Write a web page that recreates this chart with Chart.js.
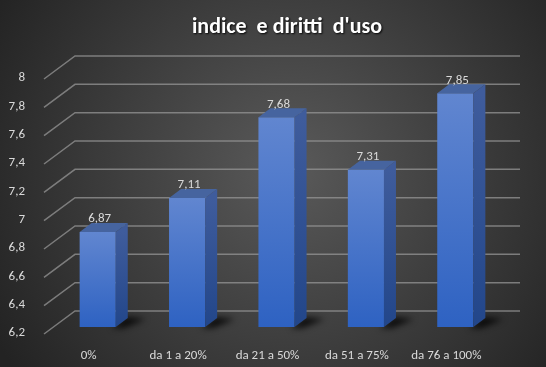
<!DOCTYPE html>
<html>
<head>
<meta charset="utf-8">
<script src="https://cdn.jsdelivr.net/npm/chart.js@4"></script>
<style>
  html, body { margin: 0; padding: 0; background: #2a2a2a; }
  #wrap { width: 546px; height: 367px; }
</style>
</head>
<body>
<div id="wrap"><canvas id="myChart" width="546" height="367"></canvas></div>
<script>
(function() {

    const categories = ['0%', 'da 1 a 20%', 'da 21 a 50%', 'da 51 a 75%', 'da 76 a 100%'];
    const values = [6.87, 7.11, 7.68, 7.31, 7.85];
    const yMin = 6.2, yMax = 8, yStep = 0.2;
    const titleText = "indice  e diritti  d'uso";

    const FONT = "Carlito, 'Liberation Sans', Arial, sans-serif";
    const DX = 12, DY = -9;   // bar depth

    const fmt = v => String(Math.round(v * 100) / 100).replace('.', ',');

    function frontGradient(ctx) {
        const chart = ctx.chart;
        const area = chart.chartArea;
        if (!area || ctx.dataIndex === undefined) return '#4a76c9';
        const y = chart.scales.y.getPixelForValue(values[ctx.dataIndex]);
        const g = chart.ctx.createLinearGradient(0, y, 0, area.bottom);
        g.addColorStop(0, '#6186d0');
        g.addColorStop(1, '#2e62c2');
        return g;
    }

    const depthPlugin = {
        id: 'depth',
        beforeDraw(chart) {
            const c = chart.ctx;
            const g = c.createRadialGradient(290, 170, 10, 290, 170, 340);
            g.addColorStop(0, '#585858');
            g.addColorStop(1, '#232323');
            c.save();
            c.fillStyle = g;
            c.fillRect(0, 0, chart.width, chart.height);
            c.restore();
        },
        beforeDatasetsDraw(chart) {
            const c = chart.ctx;
            const area = chart.chartArea;
            const ys = chart.scales.y;
            c.save();
            c.strokeStyle = 'rgba(150,150,150,0.75)';
            c.lineWidth = 1.5;
            ys.ticks.forEach(t => {
                const yb = ys.getPixelForValue(t.value);
                c.beginPath();
                c.moveTo(area.left - 9, yb + 7);
                c.lineTo(area.left + 22, yb - 16);
                c.lineTo(area.right + 20, yb - 16);
                c.stroke();
            });
            // floor shadows
            const meta = chart.getDatasetMeta(0);
            c.filter = 'blur(3px)';
            c.fillStyle = 'rgba(0,0,0,0.8)';
            meta.data.forEach(bar => {
                const r = bar.x + bar.width / 2;
                const b = area.bottom;
                c.beginPath();
                c.moveTo(r - 4, b + 1);
                c.lineTo(r + 8, b + 1);
                c.lineTo(r + 30, b - 8);
                c.lineTo(r + 10, b - 10);
                c.closePath();
                c.fill();
            });
            c.restore();
        },
        afterDatasetsDraw(chart) {
            const c = chart.ctx;
            const area = chart.chartArea;
            const meta = chart.getDatasetMeta(0);
            c.save();
            meta.data.forEach((bar, i) => {
                const l = bar.x - bar.width / 2;
                const r = bar.x + bar.width / 2;
                const y = bar.y, b = area.bottom;
                const sg = c.createLinearGradient(0, y, 0, b);
                sg.addColorStop(0, '#3f5c9c');
                sg.addColorStop(1, '#22468a');
                c.fillStyle = sg;
                c.beginPath();
                c.moveTo(r, y);
                c.lineTo(r + DX, y + DY);
                c.lineTo(r + DX, b + DY);
                c.lineTo(r, b);
                c.closePath();
                c.fill();
                c.fillStyle = '#46649f';
                c.beginPath();
                c.moveTo(l, y);
                c.lineTo(l + DX, y + DY);
                c.lineTo(r + DX, y + DY);
                c.lineTo(r, y);
                c.closePath();
                c.fill();
                // value label
                c.fillStyle = '#d9d9d9';
                c.font = '13px ' + FONT;
                c.textAlign = 'center';
                c.textBaseline = 'middle';
                c.fillText(fmt(values[i]), bar.x + 2, y - 13);
            });
            // title
            c.font = 'bold 22px ' + FONT;
            c.textAlign = 'center';
            c.textBaseline = 'middle';
            c.shadowColor = 'rgba(0,0,0,0.9)';
            c.shadowOffsetX = 1;
            c.shadowOffsetY = 1;
            c.shadowBlur = 2;
            c.fillStyle = '#ffffff';
            c.fillText(titleText, 287, 27);
            c.restore();
        }
    };

    const myChart = new Chart(document.getElementById('myChart'), {
        type: 'bar',
        data: {
            labels: categories,
            datasets: [{
                data: values,
                backgroundColor: frontGradient,
                borderWidth: 0,
                barPercentage: 0.8,
                categoryPercentage: 0.505
            }]
        },
        options: {
            responsive: false,
            animation: false,
            layout: { padding: { top: 72, right: 46, bottom: 0, left: 0 } },
            plugins: {
                legend: { display: false },
                title: { display: false },
                tooltip: { enabled: false }
            },
            scales: {
                x: {
                    grid: { display: false },
                    border: { display: false },
                    afterFit(scale) { scale.height = 40; },
                    ticks: {
                        color: '#d9d9d9',
                        font: { size: 13, family: FONT },
                        padding: 13,
                        labelOffset: -9,
                        maxRotation: 0
                    }
                },
                y: {
                    min: yMin,
                    max: yMax,
                    grid: { display: false },
                    border: { display: false },
                    afterFit(scale) { scale.width = 53; },
                    ticks: {
                        stepSize: yStep,
                        color: '#d9d9d9',
                        font: { size: 13, family: FONT },
                        padding: 20,
                        labelOffset: 6,
                        callback: v => fmt(v)
                    }
                }
            }
        },
        plugins: [depthPlugin]
    });
})();
</script>
</body>
</html>
